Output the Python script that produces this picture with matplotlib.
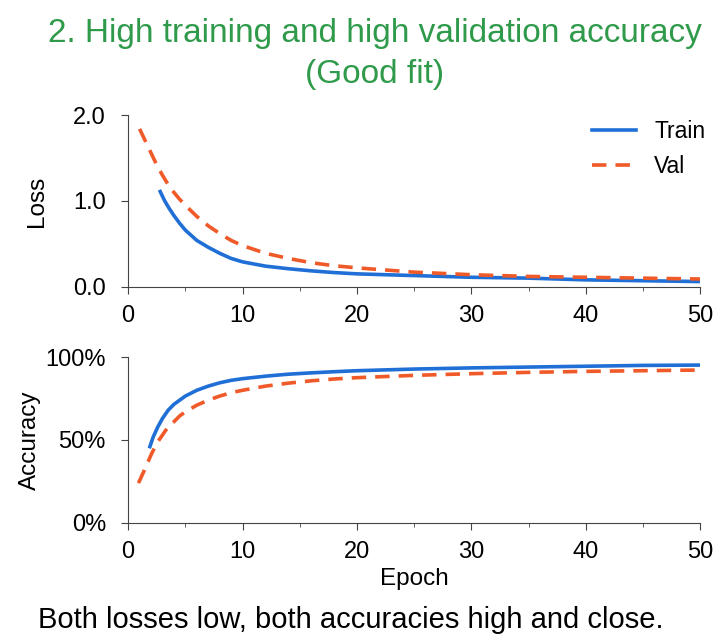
import matplotlib.pyplot as plt
from matplotlib.ticker import MultipleLocator, PercentFormatter

plt.rcParams['font.family'] = ['Liberation Sans', 'DejaVu Sans']

# valores
ep_train_loss = [2.8, 3.2, 3.6, 4, 4.5, 5, 5.5, 6, 7, 8, 9, 10, 12, 14, 16, 18, 20, 25, 30, 35, 40, 45, 50]
train_loss = [1.11, 1.00, 0.91, 0.83, 0.74, 0.66, 0.60, 0.54, 0.46, 0.39, 0.33, 0.29, 0.24, 0.21, 0.185, 0.165, 0.15,
              0.13, 0.11, 0.10, 0.08, 0.07, 0.06]
ep_val_loss = [1, 1.5, 2, 2.5, 3, 3.5, 4, 4.5, 5, 6, 7, 8, 9, 10, 12, 14, 16, 18, 20, 25, 30, 35, 40, 45, 50]
val_loss = [1.84, 1.70, 1.56, 1.42, 1.30, 1.19, 1.10, 1.02, 0.95, 0.82, 0.71, 0.62, 0.54, 0.48, 0.39, 0.33, 0.28,
            0.245, 0.22, 0.17, 0.14, 0.12, 0.11, 0.10, 0.09]

ep_train_acc = [1.9, 2.2, 2.6, 3, 3.5, 4, 4.5, 5, 6, 7, 8, 9, 10, 12, 14, 16, 18, 20, 25, 30, 35, 40, 45, 50]
train_acc = [0.46, 0.52, 0.58, 0.63, 0.68, 0.715, 0.74, 0.765, 0.80, 0.825, 0.845, 0.86, 0.87, 0.885, 0.897, 0.905,
             0.912, 0.918, 0.928, 0.935, 0.94, 0.945, 0.95, 0.952]
ep_val_acc = [0.9, 1.5, 2, 2.5, 3, 3.5, 4, 4.5, 5, 6, 7, 8, 9, 10, 12, 14, 16, 18, 20, 25, 30, 35, 40, 45, 50]
val_acc = [0.24, 0.33, 0.41, 0.48, 0.53, 0.58, 0.61, 0.645, 0.67, 0.71, 0.74, 0.765, 0.785, 0.80, 0.825, 0.843,
           0.857, 0.868, 0.876, 0.89, 0.90, 0.908, 0.914, 0.918, 0.922]

azul = '#1f6fd6'
naranja = '#f05a28'
verde = '#2e9a4a'

fig = plt.figure(figsize=(7.24, 6.4), dpi=100)
fig.text(0.518, 0.947, '2. High training and high validation accuracy', ha='center', va='center',
         fontsize=24, color=verde)
fig.text(0.518, 0.884, '(Good fit)', ha='center', va='center', fontsize=24, color=verde)

ax1 = fig.add_axes([0.177, 0.552, 0.79, 0.268])
ax1.plot(ep_train_loss, train_loss, color=azul, lw=2.6, label='Train')
ax1.plot(ep_val_loss, val_loss, color=naranja, lw=2.6, ls=(0, (4, 2.5)), label='Val')
ax1.set_xlim(0, 50)
ax1.set_ylim(0, 2.0)
ax1.set_yticks([0, 1, 2])
ax1.set_yticklabels(['0.0', '1.0', '2.0'])
ax1.set_ylabel('Loss', fontsize=17.5, labelpad=18)
ax1.legend(frameon=False, loc='upper right', fontsize=16.5, handlelength=1.9, bbox_to_anchor=(1.045, 1.09))

ax2 = fig.add_axes([0.177, 0.183, 0.79, 0.259])
ax2.plot(ep_train_acc, train_acc, color=azul, lw=2.6)
ax2.plot(ep_val_acc, val_acc, color=naranja, lw=2.6, ls=(0, (4, 2.5)))
ax2.set_xlim(0, 50)
ax2.set_ylim(0, 1)
ax2.set_yticks([0, 0.5, 1])
ax2.yaxis.set_major_formatter(PercentFormatter(1.0, decimals=0))
ax2.set_ylabel('Accuracy', fontsize=17.5, labelpad=3)
ax2.set_xlabel('Epoch', fontsize=17.5, labelpad=4)

for ax in (ax1, ax2):
    ax.spines['top'].set_visible(False)
    ax.spines['right'].set_visible(False)
    ax.spines['left'].set_color('#444444')
    ax.spines['bottom'].set_color('#444444')
    ax.set_xticks([0, 10, 20, 30, 40, 50])
    ax.xaxis.set_minor_locator(MultipleLocator(5))
    ax.tick_params(labelsize=17, length=5, color='#444444')
    ax.tick_params(axis='x', pad=8)
    ax.tick_params(axis='y', pad=11)
    ax.tick_params(which='minor', length=3, color='#444444')

fig.text(0.052, 0.031, 'Both losses low, both accuracies high and close.', fontsize=21, va='center')

plt.savefig('out.png', dpi=100)
